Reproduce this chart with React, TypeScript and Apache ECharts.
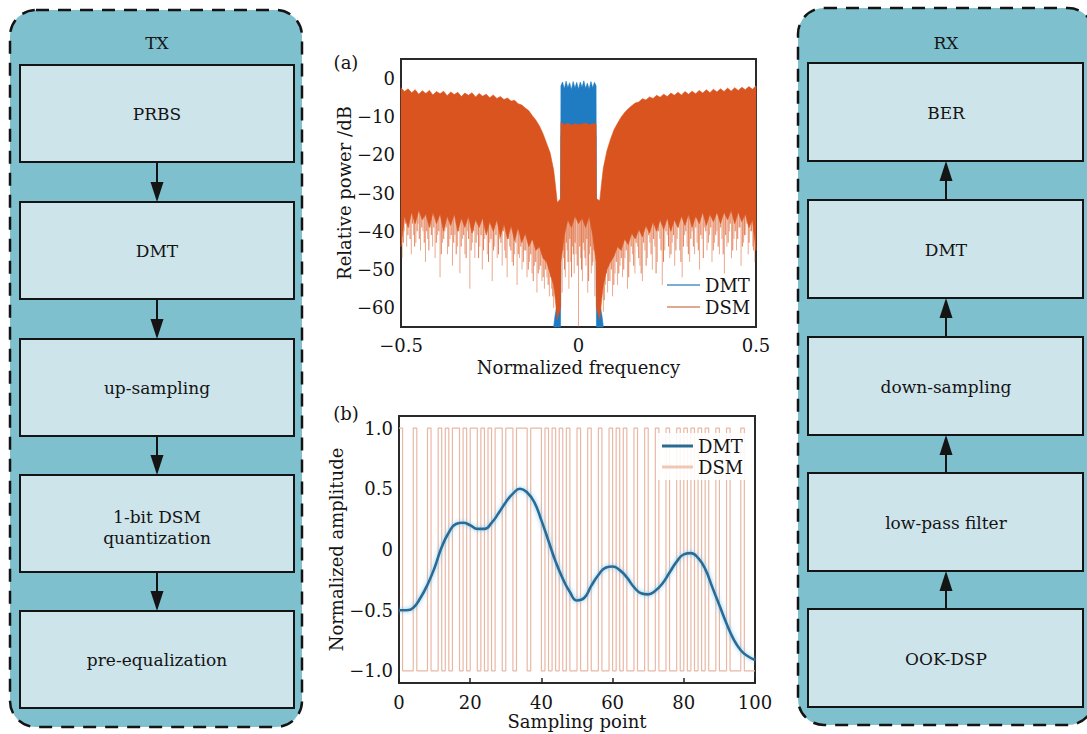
import React, { useEffect, useRef } from 'react';
import * as echarts from 'echarts';

const FONT = 'DejaVu Serif';

// ---------- (a) spectrum ----------
const specX = [
  -0.5, -0.49, -0.48, -0.47, -0.46, -0.45, -0.44, -0.43, -0.42, -0.41,
  -0.4, -0.39, -0.38, -0.37, -0.36, -0.35, -0.34, -0.33, -0.32, -0.31,
  -0.3, -0.29, -0.28, -0.27, -0.26, -0.25, -0.24, -0.23, -0.22, -0.21,
  -0.2, -0.19, -0.18, -0.17, -0.16, -0.15, -0.14, -0.13, -0.12, -0.11,
  -0.1, -0.09, -0.08, -0.07,
  -0.065, -0.06, -0.0505, -0.0495,
  -0.04, -0.03, -0.02, -0.01, 0, 0.01, 0.02, 0.03, 0.04,
  0.0495, 0.0505, 0.06, 0.065,
  0.07, 0.08, 0.09, 0.1,
  0.11, 0.12, 0.13, 0.14, 0.15, 0.16, 0.17, 0.18, 0.19, 0.2,
  0.21, 0.22, 0.23, 0.24, 0.25, 0.26, 0.27, 0.28, 0.29, 0.3,
  0.31, 0.32, 0.33, 0.34, 0.35, 0.36, 0.37, 0.38, 0.39, 0.4,
  0.41, 0.42, 0.43, 0.44, 0.45, 0.46, 0.47, 0.48, 0.49, 0.5,
];
const dsmTop = [
  -2.5, -3.5, -2.8, -3.8, -3.0, -4.2, -3.3, -4.0, -3.2, -4.4,
  -3.5, -4.1, -3.4, -4.6, -3.6, -4.3, -3.7, -4.8, -3.9, -4.5,
  -3.8, -4.9, -4.0, -4.7, -4.2, -5.1, -4.4, -5.3, -4.8, -5.6,
  -5.2, -6.0, -5.8, -6.7, -7.0, -7.8, -8.5, -9.8, -11.0, -12.5,
  -14.5, -17.0, -19.5, -24.0,
  -28.0, -32.5, -31.5, -11.5,
  -12.2, -11.8, -12.3, -11.9, -12.1, -12.0, -11.7, -12.2, -11.9,
  -12.0, -31.5, -32.0, -27.5,
  -23.5, -19.0, -16.0, -13.5,
  -11.8, -10.2, -9.0, -8.0, -7.2, -6.5, -6.2, -5.4, -5.7, -4.9,
  -5.3, -4.5, -5.0, -4.2, -4.8, -3.9, -4.5, -3.7, -4.4, -3.5,
  -4.2, -3.4, -4.1, -3.2, -3.9, -3.0, -3.8, -2.9, -3.6, -2.8,
  -3.5, -2.6, -3.4, -2.5, -3.2, -2.4, -3.0, -2.2, -2.9, -2.0,
];
const dsmFloor = [
  -44, -36, -39, -35, -38, -34.5, -37, -35.5, -39, -35,
  -38, -35.5, -40, -36, -38.5, -35.5, -40, -36.5, -39, -36,
  -40.5, -37, -39, -36.5, -41, -37.5, -40, -37, -41.5, -38,
  -42, -38.5, -42.5, -39, -43, -40.5, -44, -42, -45, -44,
  -47, -48, -51, -54,
  -58, -63, -60, -48,
  -41, -37, -39, -36, -38, -36.5, -39, -36, -41,
  -48, -60, -63, -58,
  -54, -50, -48, -46.5,
  -44, -45, -42, -43.5, -40.5, -42, -39.5, -41.5, -38.5, -40.5,
  -37.5, -40, -37, -39.5, -36.5, -40, -37, -39, -36, -38.5,
  -35.5, -39, -36, -38, -35, -38.5, -35.5, -37.5, -35, -38,
  -35, -37, -34.5, -38, -35, -37.5, -35.5, -39, -37, -45,
];
const dmtX = [
  -0.07, -0.066, -0.062, -0.058, -0.054, -0.0505,
  -0.0495, -0.045, -0.04, -0.035, -0.03, -0.025, -0.02, -0.015, -0.01, -0.005, 0,
  0.005, 0.01, 0.015, 0.02, 0.025, 0.03, 0.035, 0.04, 0.045, 0.0495,
  0.0505, 0.054, 0.058, 0.062, 0.066, 0.07,
];
const dmtTop = [
  -65, -62, -60, -57, -53, -49,
  -2.0, -1.0, -2.8, -0.8, -2.5, -1.2, -3.0, -0.9, -2.6, -1.1, -2.9,
  -1.0, -2.4, -0.7, -2.7, -1.3, -2.9, -0.9, -2.5, -1.1, -2.0,
  -49, -53, -57, -60, -62, -65,
];
const dmtLow = [
  -65, -65, -65, -65, -65, -65,
  -15, -15, -15, -15, -15, -15, -15, -15, -15, -15, -15,
  -15, -15, -15, -15, -15, -15, -15, -15, -15, -15,
  -65, -65, -65, -65, -65, -65,
];
// deep downward spikes of the DSM spectrum: [frequency, depth dB]
const dsmSpikes: [number, number][] = [
  [-0.497, -47], [-0.491, -40], [-0.484, -44], [-0.478, -39], [-0.471, -46], [-0.465, -41], [-0.458, -43], [-0.452, -38],
  [-0.445, -45], [-0.438, -40], [-0.431, -48], [-0.425, -42], [-0.418, -39], [-0.411, -44], [-0.404, -47], [-0.397, -41],
  [-0.39, -52], [-0.383, -43], [-0.376, -40], [-0.369, -46], [-0.362, -42], [-0.355, -49], [-0.348, -41], [-0.341, -44],
  [-0.334, -51], [-0.327, -42], [-0.32, -46], [-0.313, -40], [-0.306, -55], [-0.299, -43], [-0.292, -47], [-0.285, -41],
  [-0.278, -44], [-0.271, -50], [-0.264, -42], [-0.257, -46], [-0.25, -43], [-0.243, -53], [-0.236, -44], [-0.229, -47],
  [-0.222, -42], [-0.215, -49], [-0.208, -45], [-0.201, -52], [-0.194, -44], [-0.187, -48], [-0.18, -46], [-0.173, -54],
  [-0.166, -47], [-0.159, -50], [-0.152, -45], [-0.145, -52], [-0.138, -48], [-0.131, -51], [-0.124, -49], [-0.117, -56],
  [-0.11, -50], [-0.103, -53], [-0.096, -55], [-0.089, -52], [-0.082, -57], [-0.076, -55], [-0.07, -60],
  [-0.046, -56], [-0.042, -47], [-0.037, -52], [-0.032, -45], [-0.027, -55], [-0.022, -48], [-0.017, -44], [-0.012, -51],
  [-0.007, -46], [0, -65], [0.006, -47], [0.011, -53], [0.016, -45], [0.021, -49], [0.026, -56], [0.031, -46],
  [0.036, -51], [0.041, -48], [0.046, -57],
  [0.07, -61], [0.076, -54], [0.082, -56], [0.089, -53], [0.096, -57], [0.103, -51], [0.11, -54], [0.117, -49],
  [0.124, -52], [0.131, -47], [0.138, -55], [0.145, -48], [0.152, -46], [0.159, -51], [0.166, -44], [0.173, -49],
  [0.18, -53], [0.187, -45], [0.194, -47], [0.201, -43], [0.208, -50], [0.215, -44], [0.222, -48], [0.229, -42],
  [0.236, -54], [0.243, -45], [0.25, -41], [0.257, -47], [0.264, -43], [0.271, -49], [0.278, -42], [0.285, -45],
  [0.292, -52], [0.299, -41], [0.306, -44], [0.313, -48], [0.32, -40], [0.327, -46], [0.334, -43], [0.341, -50],
  [0.348, -42], [0.355, -39], [0.362, -45], [0.369, -41], [0.376, -48], [0.383, -43], [0.39, -40], [0.397, -46],
  [0.404, -42], [0.411, -51], [0.418, -44], [0.425, -40], [0.431, -47], [0.438, -42], [0.445, -45], [0.452, -39],
  [0.458, -49], [0.465, -43], [0.471, -41], [0.478, -46], [0.484, -40], [0.491, -44], [0.497, -48],
];
// shallower in-between spikes that roughen the lower edge
const dsmSpikesFine: [number, number][] = [
  [-0.4935, -43], [-0.4875, -38], [-0.4805, -41], [-0.4745, -42], [-0.4675, -38], [-0.4615, -44], [-0.4545, -40], [-0.4485, -42],
  [-0.4415, -39], [-0.4345, -43], [-0.4275, -40], [-0.4215, -45], [-0.4145, -41], [-0.4075, -39], [-0.4005, -43], [-0.3935, -40],
  [-0.3865, -46], [-0.3795, -42], [-0.3725, -39], [-0.3655, -44], [-0.3585, -41], [-0.3515, -43], [-0.3445, -46], [-0.3375, -40],
  [-0.3305, -44], [-0.3235, -41], [-0.3165, -47], [-0.3095, -42], [-0.3025, -45], [-0.2955, -40], [-0.2885, -43], [-0.2815, -47],
  [-0.2745, -41], [-0.2675, -45], [-0.2605, -40], [-0.2535, -48], [-0.2465, -42], [-0.2395, -45], [-0.2325, -41], [-0.2255, -46],
  [-0.2185, -43], [-0.2115, -40], [-0.2045, -47], [-0.1975, -42], [-0.1905, -45], [-0.1835, -49], [-0.1765, -43], [-0.1695, -46],
  [-0.1625, -44], [-0.1555, -48], [-0.1485, -45], [-0.1415, -50], [-0.1345, -46], [-0.1275, -53], [-0.1205, -48], [-0.1135, -51],
  [-0.1065, -49], [-0.0995, -52], [-0.0925, -50], [-0.0855, -54], [-0.0785, -52], [-0.0725, -57],
  [-0.044, -45], [-0.0395, -50], [-0.0345, -43], [-0.0295, -48], [-0.0245, -42], [-0.0195, -52], [-0.0145, -46], [-0.0095, -43],
  [-0.0035, -49], [0.0035, -44], [0.0085, -50], [0.0135, -43], [0.0185, -47], [0.0235, -42], [0.0285, -53], [0.0335, -44],
  [0.0385, -49], [0.0435, -45],
  [0.0725, -58], [0.0785, -51], [0.0855, -53], [0.0925, -50], [0.0995, -54], [0.1065, -48], [0.1135, -51], [0.1205, -47],
  [0.1275, -50], [0.1345, -45], [0.1415, -52], [0.1485, -44], [0.1555, -49], [0.1625, -43], [0.1695, -47], [0.1765, -51],
  [0.1835, -43], [0.1905, -49], [0.1975, -41], [0.2045, -46], [0.2115, -42], [0.2185, -51], [0.2255, -40], [0.2325, -45],
  [0.2395, -48], [0.2465, -40], [0.2535, -44], [0.2605, -46], [0.2675, -41], [0.2745, -45], [0.2815, -39], [0.2885, -48],
  [0.2955, -44], [0.3025, -40], [0.3095, -46], [0.3165, -42], [0.3235, -44], [0.3305, -39], [0.3375, -45], [0.3445, -41],
  [0.3515, -47], [0.3585, -40], [0.3655, -43], [0.3725, -39], [0.3795, -45], [0.3865, -41], [0.3935, -44], [0.4005, -39],
  [0.4075, -46], [0.4145, -41], [0.4215, -43], [0.4275, -38], [0.4345, -45], [0.4415, -40], [0.4485, -42], [0.4545, -39],
  [0.4615, -44], [0.4675, -41], [0.4745, -38], [0.4805, -43], [0.4875, -40], [0.4935, -45],
];

// ---------- (b) time domain ----------
const sampleX = [
  0, 2, 4, 6, 8, 10, 12, 14, 16, 18, 20, 22, 24, 26, 28, 30, 32, 34, 36, 38, 40,
  42, 44, 46, 48, 50, 52, 54, 56, 58, 60, 62, 64, 66, 68, 70, 72, 74, 76, 78, 80,
  82, 84, 86, 88, 90, 92, 94, 96, 98, 100,
];
const dmtWave = [
  -0.5, -0.5, -0.48, -0.4, -0.29, -0.15, 0.02, 0.14, 0.21, 0.22, 0.2,
  0.17, 0.17, 0.22, 0.3, 0.39, 0.46, 0.5, 0.47, 0.39, 0.24,
  0.07, -0.1, -0.24, -0.35, -0.42, -0.4, -0.3, -0.21, -0.15, -0.14,
  -0.17, -0.23, -0.31, -0.36, -0.37, -0.34, -0.28, -0.19, -0.1, -0.04,
  -0.03, -0.07, -0.16, -0.31, -0.46, -0.61, -0.74, -0.83, -0.88, -0.91,
];
const dsmBits = [
  1, -1, -1, -1, 1, -1, -1, -1, 1, -1,
  -1, 1, -1, 1, -1, 1, 1, -1, 1, -1,
  1, 1, -1, 1, -1, 1, -1, 1, 1, -1,
  1, 1, -1, 1, 1, 1, -1, 1, 1, 1,
  -1, 1, -1, 1, -1, 1, -1, 1, -1, -1,
  1, -1, -1, 1, -1, -1, 1, -1, -1, 1,
  -1, 1, -1, 1, -1, -1, 1, -1, -1, 1,
  -1, -1, 1, -1, -1, 1, -1, -1, 1, -1,
  1, -1, 1, -1, 1, -1, 1, -1, -1, 1,
  -1, -1, 1, -1, -1, -1, 1, -1, -1, -1,
  -1,
];

// ---------- block diagrams ----------
const txBlocks = [['PRBS'], ['DMT'], ['up-sampling'], ['1-bit DSM', 'quantization'], ['pre-equalization']];
const rxBlocks = [['BER'], ['DMT'], ['down-sampling'], ['low-pass filter'], ['OOK-DSP']];

const minus = (s: string) => s.replace('-', '\u2212');

function buildGraphics() {
  const els: any[] = [];
  const outerFill = '#7ec0ce';
  const innerFill = '#cee4eb';
  const stroke = '#141414';
  const txt = (text: string, x: number, y: number, size = 17) => ({
    type: 'text',
    z: 10,
    style: { text, x, y, fill: '#141414', font: `${size}px "${FONT}"`, textAlign: 'center', textVerticalAlign: 'middle' },
  });
  els.push({ type: 'rect', z: 1, shape: { x: 10, y: 10, width: 292, height: 717, r: 26 }, style: { fill: outerFill, stroke, lineWidth: 2.5, lineDash: [13, 9] } });
  els.push(txt('TX', 157, 43));
  const txTops = [65, 202, 339, 475, 611];
  txBlocks.forEach((lines, i) => {
    const top = txTops[i];
    els.push({ type: 'rect', z: 2, shape: { x: 20, y: top, width: 274, height: 97 }, style: { fill: innerFill, stroke, lineWidth: 2 } });
    if (lines.length === 1) els.push(txt(lines[0], 157, top + 49));
    else {
      els.push(txt(lines[0], 157, top + 42));
      els.push(txt(lines[1], 157, top + 63));
    }
    if (i < txBlocks.length - 1) {
      const next = txTops[i + 1];
      els.push({ type: 'line', z: 3, shape: { x1: 157, y1: top + 97, x2: 157, y2: next - 16 }, style: { stroke, lineWidth: 2 } });
      els.push({ type: 'polygon', z: 3, shape: { points: [[150.5, next - 20], [163.5, next - 20], [157, next]] }, style: { fill: stroke } });
    }
  });
  els.push({ type: 'rect', z: 1, shape: { x: 798, y: 8, width: 296, height: 717, r: 26 }, style: { fill: outerFill, stroke, lineWidth: 2.5, lineDash: [13, 9] } });
  els.push(txt('RX', 946, 43));
  const rxTops = [63, 200, 337, 473, 609];
  rxBlocks.forEach((lines, i) => {
    const top = rxTops[i];
    els.push({ type: 'rect', z: 2, shape: { x: 808, y: top, width: 275, height: 98 }, style: { fill: innerFill, stroke, lineWidth: 2 } });
    els.push(txt(lines[0], 946, top + 50));
    if (i < rxBlocks.length - 1) {
      const bottom = top + 98;
      const lower = rxTops[i + 1];
      els.push({ type: 'line', z: 3, shape: { x1: 946, y1: lower, x2: 946, y2: bottom + 16 }, style: { stroke, lineWidth: 2 } });
      els.push({ type: 'polygon', z: 3, shape: { points: [[939.5, bottom + 20], [952.5, bottom + 20], [946, bottom]] }, style: { fill: stroke } });
    }
  });
  els.push(txt('(a)', 346, 62, 18));
  els.push(txt('(b)', 346, 413, 18));
  return els;
}

// band polygon (top edge then bottom edge reversed) drawn through the axes' coord()
function bandSeries(name: string, xs: number[], tops: number[], lows: number[], color: string, z: number) {
  return {
    name, type: 'custom', xAxisIndex: 0, yAxisIndex: 0, z, silent: true,
    itemStyle: { color },
    data: xs.map((x, i) => [x, tops[i], lows[i]]),
    renderItem: (params: any, api: any) => {
      if (params.dataIndex !== 0) return null;
      const upper = xs.map((x, i) => api.coord([x, tops[i]]));
      const lower = xs.map((x, i) => api.coord([x, lows[i]])).reverse();
      return { type: 'polygon', shape: { points: upper.concat(lower) }, style: { fill: color, stroke: color, lineWidth: 0.6 } };
    },
  };
}

function spikeSeries(data: [number, number][], color: string, opacity: number) {
  return {
    type: 'custom', xAxisIndex: 0, yAxisIndex: 0, z: 3, silent: true,
    data,
    renderItem: (params: any, api: any) => {
      const x = api.value(0);
      const p1 = api.coord([x, -34]);
      const p2 = api.coord([x, api.value(1)]);
      return {
        type: 'line',
        shape: { x1: p1[0], y1: p1[1], x2: p2[0], y2: p2[1] },
        style: { stroke: color, lineWidth: 1, opacity },
      };
    },
  };
}

export default function App() {
  const ref = useRef<HTMLDivElement>(null);
  useEffect(() => {
    if (!ref.current) return;
    const chart = echarts.init(ref.current, undefined, { renderer: 'svg' });
    const axisText = { color: '#141414', fontSize: 18, fontFamily: FONT };
    const blue = '#1f7cc2';
    const orange = '#d9541e';
    const option: any = {
      animation: false,
      backgroundColor: '#ffffff',
      textStyle: { fontFamily: FONT },
      graphic: { elements: buildGraphics() },
      grid: [
        { left: 401, top: 59, width: 355, height: 268, show: true, borderColor: '#2a2a2a', borderWidth: 2, backgroundColor: '#ffffff' },
        { left: 399, top: 416, width: 356, height: 267, show: true, borderColor: '#2a2a2a', borderWidth: 2, backgroundColor: '#ffffff' },
      ],
      xAxis: [
        {
          type: 'value', gridIndex: 0, min: -0.5, max: 0.5, interval: 0.5,
          axisLine: { show: false, onZero: false }, axisTick: { show: false }, splitLine: { show: false },
          axisLabel: { ...axisText, margin: 9, formatter: (v: number) => (v === 0 ? '0' : minus(String(v))) },
          name: 'Normalized frequency', nameLocation: 'middle', nameGap: 31, nameTextStyle: axisText,
        },
        {
          type: 'value', gridIndex: 1, min: 0, max: 100, interval: 20,
          axisLine: { show: false, onZero: false }, splitLine: { show: false },
          axisTick: { show: true, inside: true, length: 5, lineStyle: { color: '#222', width: 1.5 } },
          axisLabel: { ...axisText, margin: 10 },
          name: 'Sampling point', nameLocation: 'middle', nameGap: 29, nameTextStyle: axisText,
        },
      ],
      yAxis: [
        {
          type: 'value', gridIndex: 0, min: -65, max: 5, interval: 5,
          axisLine: { show: false, onZero: false }, axisTick: { show: false }, splitLine: { show: false },
          axisLabel: {
            ...axisText, margin: 6,
            formatter: (v: number) => (v % 10 === 0 && v <= 0 ? (v === 0 ? '0' : minus(String(v))) : ''),
          },
          name: 'Relative power /dB', nameLocation: 'middle', nameGap: 46, nameTextStyle: axisText,
        },
        {
          type: 'value', gridIndex: 1, min: -1.1, max: 1.1, interval: 0.1,
          axisLine: { show: false, onZero: false }, axisTick: { show: false }, splitLine: { show: false },
          axisLabel: {
            ...axisText, margin: 6,
            formatter: (v: number) => {
              const r = Math.round(v * 10) / 10;
              if (Math.abs(r * 2 - Math.round(r * 2)) > 1e-9 || Math.abs(r) > 1.05) return '';
              return r === 0 ? '0' : minus(r.toFixed(1));
            },
          },
          name: 'Normalized amplitude', nameLocation: 'middle', nameGap: 52, nameTextStyle: axisText,
        },
      ],
      legend: [
        {
          orient: 'vertical', left: 667, top: 276, itemWidth: 33, itemHeight: 1.5, itemGap: 4, padding: 0,
          selectedMode: false, textStyle: { ...axisText },
          data: [
            { name: 'DMT', icon: 'rect', itemStyle: { color: '#4b93cc' } },
            { name: 'DSM', icon: 'rect', itemStyle: { color: '#d88a6c' } },
          ],
        },
        {
          orient: 'vertical', left: 658, top: 433, itemWidth: 31, itemHeight: 3, itemGap: 3, padding: [4, 6, 4, 4],
          backgroundColor: 'rgba(255,255,255,0.88)', selectedMode: false, textStyle: { ...axisText },
          data: [
            { name: 'DMT', icon: 'rect', itemStyle: { color: '#2a6b94' } },
            { name: 'DSM', icon: 'rect', itemStyle: { color: '#f0c6b5' } },
          ],
        },
      ],
      series: [
        bandSeries('DMT', dmtX, dmtTop, dmtLow, blue, 2),
        spikeSeries(dsmSpikes, orange, 0.5),
        spikeSeries(dsmSpikesFine, orange, 0.75),
        bandSeries('DSM', specX, dsmTop, dsmFloor, orange, 4),
        {
          name: 'DSM', type: 'line', xAxisIndex: 1, yAxisIndex: 1, z: 2, step: 'end',
          symbol: 'none', lineStyle: { color: '#e9b8a5', width: 1.2 }, itemStyle: { color: '#e9b8a5' },
          data: dsmBits.map((b, i) => [i, b]),
        },
        {
          name: 'DMT', type: 'line', xAxisIndex: 1, yAxisIndex: 1, z: 3, smooth: true,
          symbol: 'none',
          lineStyle: { color: '#2a6b94', width: 2.6, shadowColor: 'rgba(110,195,240,0.9)', shadowBlur: 4 },
          itemStyle: { color: '#2a6b94' },
          data: sampleX.map((x, i) => [x, dmtWave[i]]),
        },
      ],
    };
    chart.setOption(option);
    return () => chart.dispose();
  }, []);
  return (
    <div
      ref={ref}
      style={{ position: 'fixed', left: 0, top: 0, width: 1087, height: 734, background: '#fff' }}
    />
  );
}
